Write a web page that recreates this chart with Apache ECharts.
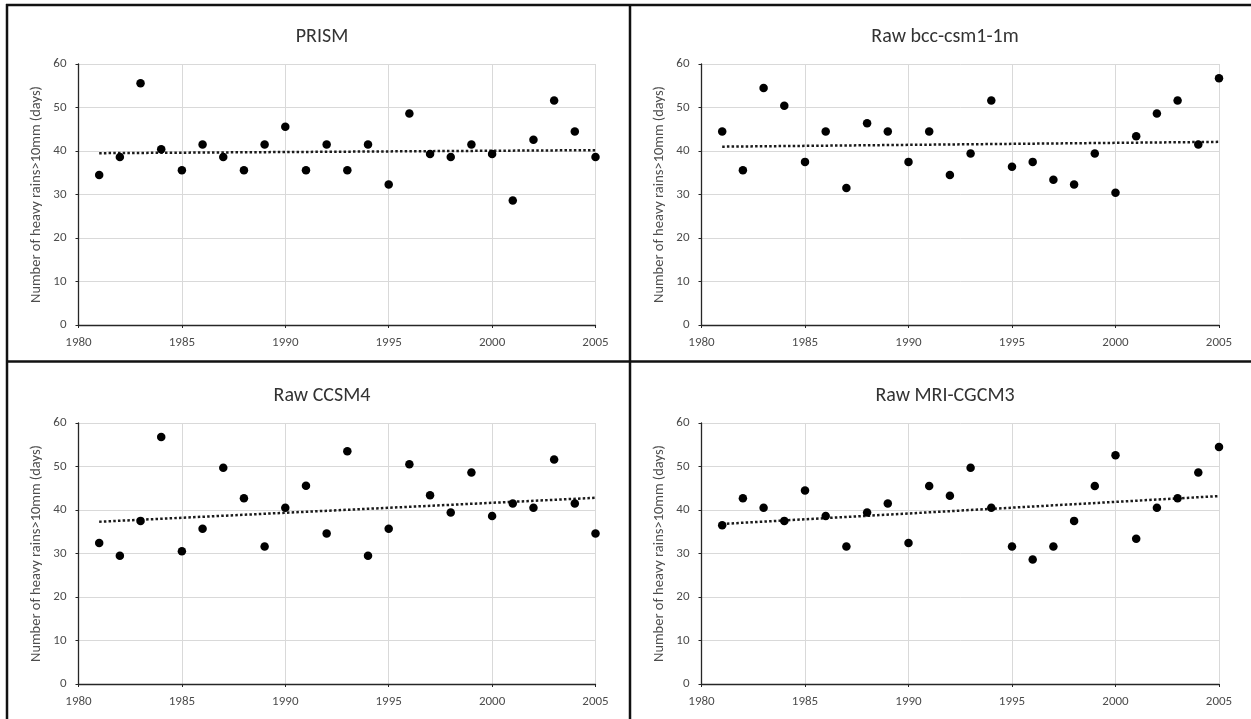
<!DOCTYPE html>
<html>
<head>
<meta charset="utf-8">
<script src="https://cdn.jsdelivr.net/npm/echarts@6/dist/echarts.min.js"></script>
<style>
html,body{margin:0;padding:0;background:#fff;}
#chart{width:1251px;height:719px;}
</style>
</head>
<body>
<div id="chart"></div>
<script>
const years = [1981,1982,1983,1984,1985,1986,1987,1988,1989,1990,1991,1992,1993,1994,1995,1996,1997,1998,1999,2000,2001,2002,2003,2004,2005];
const panelTitles = ["PRISM", "Raw bcc-csm1-1m", "Raw CCSM4", "Raw MRI-CGCM3"];
const prism = [34.5,38.6,55.6,40.4,35.6,41.5,38.6,35.6,41.5,45.6,35.6,41.5,35.6,41.5,32.3,48.6,39.3,38.6,41.5,39.3,28.6,42.6,51.6,44.5,38.6];
const bcc = [44.5,35.6,54.5,50.4,37.5,44.5,31.5,46.4,44.5,37.5,44.5,34.5,39.4,51.6,36.4,37.5,33.4,32.3,39.4,30.4,43.4,48.6,51.6,41.5,56.7];
const ccsm4 = [32.4,29.5,37.5,56.8,30.5,35.7,49.7,42.7,31.6,40.5,45.6,34.6,53.5,29.5,35.7,50.5,43.4,39.4,48.6,38.6,41.5,40.5,51.6,41.5,34.6];
const mri = [36.5,42.7,40.5,37.5,44.5,38.6,31.6,39.4,41.5,32.4,45.5,43.3,49.7,40.5,31.6,28.6,31.6,37.5,45.5,52.6,33.4,40.5,42.7,48.6,54.5];
const trendYears = [1981, 2005];
const prismTrend = [39.5, 40.2];
const bccTrend = [41.0, 42.1];
const ccsm4Trend = [37.3, 42.8];
const mriTrend = [36.8, 43.2];
const xTicks = {min:1980, max:2005, interval:5};
const yTicks = {min:0, max:60, interval:10};
const yName = "Number of heavy rains>10mm (days)";

const seriesValues = [prism, bcc, ccsm4, mri];
const trends = [prismTrend, bccTrend, ccsm4Trend, mriTrend];

const FONT = "Carlito, Lato, 'Liberation Sans', sans-serif";
const grids = [
  {left:78.5, top:64, width:517, height:261},
  {left:701.5, top:64, width:517.5, height:261},
  {left:78.5, top:423, width:517, height:261},
  {left:701.5, top:423, width:517.5, height:261}
];
const titlePos = [
  {x:317, y:32}, {x:940, y:32}, {x:317, y:391}, {x:940, y:391}
];

const chart = echarts.init(document.getElementById('chart'), null, {renderer:'canvas'});
const option = {
  animation:false,
  backgroundColor:'#fff',
  title: panelTitles.map((t,i)=>({
    text:t, left:titlePos[i].x, top:titlePos[i].y, textAlign:'center', textVerticalAlign:'middle',
    textStyle:{fontFamily:FONT, fontSize:20, fontWeight:'normal', color:'#333'}
  })),
  grid: grids.map(g=>Object.assign({containLabel:false, show:false}, g)),
  xAxis: grids.map((g,i)=>({
    type:'value', gridIndex:i, min:xTicks.min, max:xTicks.max, interval:xTicks.interval,
    axisLine:{show:true, onZero:false, lineStyle:{color:'#262626', width:1.3}},
    axisTick:{show:true, length:3, inside:false, lineStyle:{color:'#262626'}},
    axisLabel:{fontFamily:FONT, fontSize:13, color:'#4d4d4d', margin:11, showMaxLabel:true, showMinLabel:true,
      formatter:v=>String(v)},
    splitLine:{show:true, lineStyle:{color:'#d9d9d9', width:1}}
  })),
  yAxis: grids.map((g,i)=>({
    type:'value', gridIndex:i, min:yTicks.min, max:yTicks.max, interval:yTicks.interval,
    name:yName, nameLocation:'middle', nameGap:35, nameRotate:90,
    nameTextStyle:{fontFamily:FONT, fontSize:14.5, color:'#4d4d4d'},
    axisLine:{show:true, lineStyle:{color:'#262626', width:1.3}},
    axisTick:{show:true, length:3, inside:false, lineStyle:{color:'#262626'}},
    axisLabel:{fontFamily:FONT, fontSize:13, color:'#4d4d4d', margin:12},
    splitLine:{show:true, lineStyle:{color:'#d9d9d9', width:1}}
  })),
  series: [].concat(
    seriesValues.map((vals,i)=>({
      type:'scatter', xAxisIndex:i, yAxisIndex:i, symbol:'circle', symbolSize:8.5,
      itemStyle:{color:'#000', opacity:1},
      data: years.map((y,k)=>[y, vals[k]]), z:3
    })),
    trends.map((tr,i)=>({
      type:'line', xAxisIndex:i, yAxisIndex:i, symbol:'none', silent:true,
      lineStyle:{color:'#1a1a1a', width:2.5, type:[2.5,2.2]},
      data: trendYears.map((y,k)=>[y, tr[k]]), z:2
    }))
  ),
  graphic: [
    {type:'line', shape:{x1:6, y1:5, x2:1251, y2:5}, style:{stroke:'#111', lineWidth:2.5}},
    {type:'line', shape:{x1:7, y1:4, x2:7, y2:719}, style:{stroke:'#111', lineWidth:2.5}},
    {type:'line', shape:{x1:630, y1:4, x2:630, y2:719}, style:{stroke:'#111', lineWidth:2.5}},
    {type:'line', shape:{x1:6, y1:361.5, x2:1251, y2:361.5}, style:{stroke:'#111', lineWidth:2.5}}
  ]
};
chart.setOption(option);
</script>
</body>
</html>
